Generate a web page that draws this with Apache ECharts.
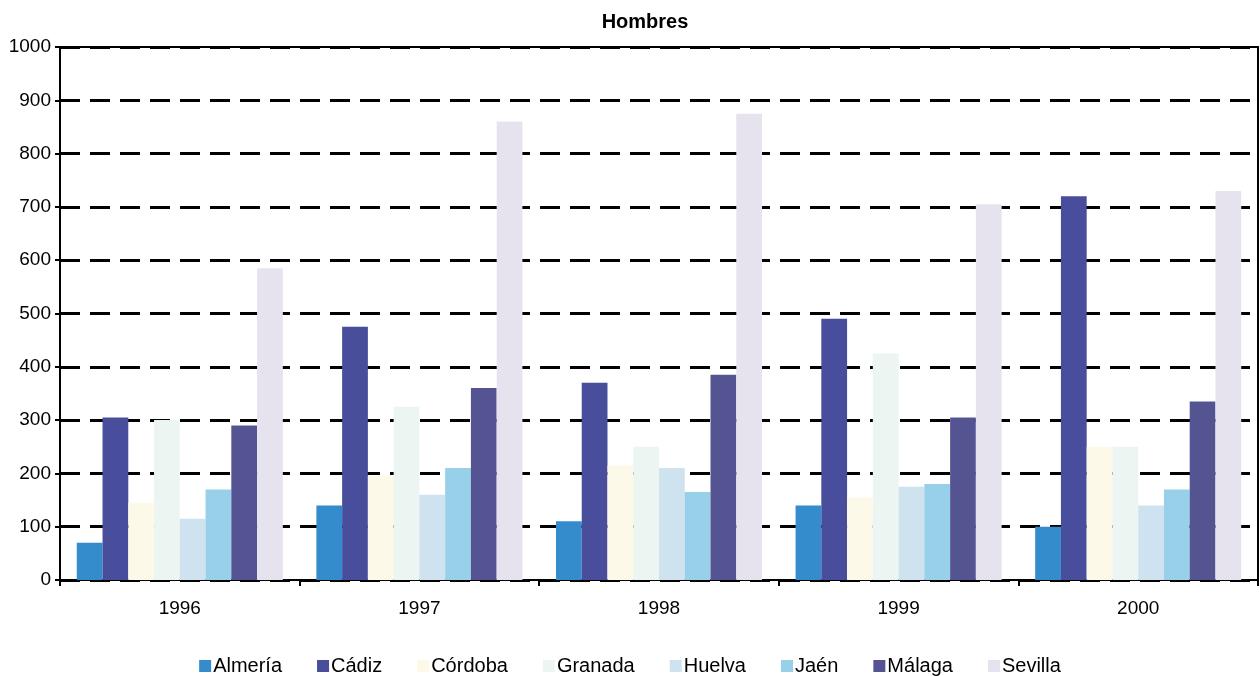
<!DOCTYPE html>
<html><head><meta charset="utf-8">
<script src="https://cdn.jsdelivr.net/npm/echarts@6/dist/echarts.min.js"></script>
<style>html,body{margin:0;padding:0;background:#fff}#c{width:1260px;height:676px}</style>
</head><body><div id="c"></div>
<script>
const title = 'Hombres';
const years = ['1996','1997','1998','1999','2000'];
const provinces = ['Almería','Cádiz','Córdoba','Granada','Huelva','Jaén','Málaga','Sevilla'];
const almeria = [70,140,110,140,100];
const cadiz   = [305,475,370,490,720];
const cordoba = [145,195,215,155,250];
const granada = [300,325,250,425,250];
const huelva  = [115,160,210,175,140];
const jaen    = [170,210,165,180,170];
const malaga  = [290,360,385,305,335];
const sevilla = [585,860,875,705,730];
const colors = ['#348ccc','#484d9c','#fdf9e8','#ecf5f1','#cfe2f0','#98cfe9','#555493','#e6e3ef'];
const values = [almeria,cadiz,cordoba,granada,huelva,jaen,malaga,sevilla];

const chart = echarts.init(document.getElementById('c'));
chart.setOption({
  animation:false,
  backgroundColor:'#fff',
  textStyle:{fontFamily:'Liberation Sans, Arial, sans-serif'},
  title:{text:title,left:640,textAlign:'center',top:7,textStyle:{fontSize:20,fontWeight:'bold',color:'#000',fontFamily:'Liberation Sans, Arial, sans-serif'}},
  grid:{left:60,right:2,top:47,bottom:96,show:true,borderColor:'#000',borderWidth:2,backgroundColor:'transparent'},
  legend:{top:651,left:'center',itemWidth:12,itemHeight:12,itemGap:35,icon:'rect',
    textStyle:{fontSize:20,color:'#000',padding:[0,0,0,-3]},data:provinces},
  xAxis:{type:'category',data:years,
    axisLine:{lineStyle:{color:'#000',width:2}},
    axisTick:{show:true,length:6,lineStyle:{color:'#000',width:2}},
    axisLabel:{fontSize:19,color:'#000',margin:19}},
  yAxis:{type:'value',min:0,max:1000,interval:100,
    axisLine:{show:true,lineStyle:{color:'#000',width:2}},
    axisTick:{show:true,length:5,lineStyle:{color:'#000',width:2}},
    axisLabel:{fontSize:19,color:'#000',margin:9,formatter:v=>String(v)},
    splitLine:{show:true,lineStyle:{color:'#000',width:3,type:[20,10]}}},
  series: provinces.map((p,i)=>({name:p,type:'bar',data:values[i],
    barGap:'0%',barCategoryGap:'14%',itemStyle:{color:colors[i]}}))
});
</script></body></html>
